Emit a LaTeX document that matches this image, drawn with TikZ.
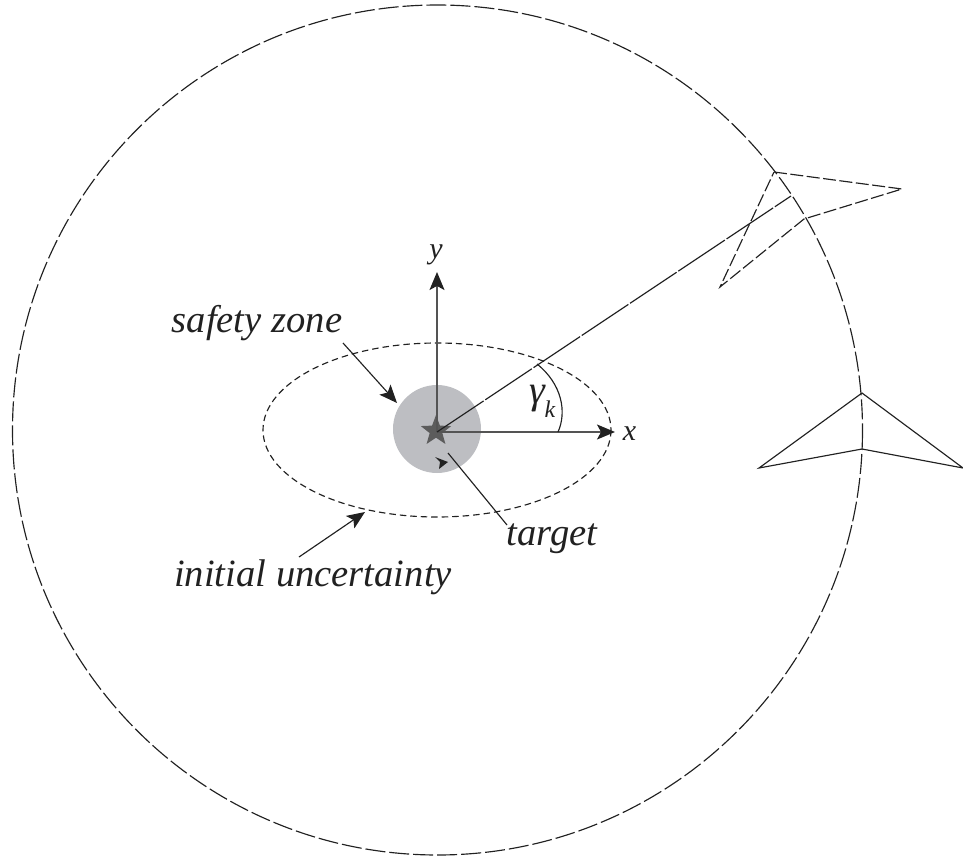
\documentclass[tikz,border=0pt]{standalone}
\usepackage{fontspec}
\setmainfont{Liberation Serif}
\usetikzlibrary{arrows.meta,shapes.geometric}
\definecolor{ink}{gray}{0.13}
\definecolor{axisgray}{gray}{0.33}
\definecolor{zonegray}{RGB}{189,190,194}
\definecolor{stargray}{gray}{0.36}
\tikzset{
  x=1pt,y=-1pt,
  every path/.style={line width=1.15pt,draw=ink},
  head/.style={-{Stealth[length=18pt,width=15pt,inset=4pt,color=ink]}},
  lab/.style={inner sep=0pt,anchor=base,text=ink,font=\fontsize{38.6}{42}\selectfont\itshape},
  axlab/.style={inner sep=0pt,anchor=base,text=ink,font=\fontsize{30}{32}\selectfont\itshape},
  sublab/.style={inner sep=0pt,anchor=base,text=ink,font=\fontsize{24}{26}\selectfont\itshape},
  bigdash/.style={dash pattern=on 20pt off 4pt},
  ovaldash/.style={dash pattern=on 6.5pt off 4pt},
  craftdash/.style={dash pattern=on 13pt off 3.5pt},
  raydash/.style={dash pattern=on 56pt off 2pt},
  axisline/.style={draw=axisgray,line width=1.5pt},
}
\begin{document}
\begin{tikzpicture}
\useasboundingbox[draw=none] (0,0) rectangle (963,859);
% zones
\fill[zonegray,draw=none] (437,429) circle [radius=44];
\draw[bigdash] (437.5,430) circle [radius=425];
\draw[ovaldash] (437,430) ellipse [x radius=174,y radius=87];
% target star
\node[star,star points=5,star point ratio=2.4,fill=stargray,draw=none,inner sep=0pt,minimum size=32pt] (star) at (436,431) {};
\coordinate (o) at (437,432);
% axes
\coordinate (xend) at (615,432);
\coordinate (yend) at (437,272);
\draw[axisline,head] (o) -- (xend);
\draw[axisline,head] (o) -- (yend);
\node[axlab] (xl) at (629.5,440) {x};
\node[axlab] (yl) at (436,258) {y};
% line of sight
\coordinate (los) at (791,196);
\draw[raydash] (o) -- (los);
\coordinate (arcs) at (558,432);
\coordinate (arce) at (537,364);
\draw (arcs) .. controls (567,412) and (562,384) .. (arce);
\node[lab,font=\fontsize{40}{44}\selectfont\itshape] (gam) at (537,403) {γ};
\node[sublab] (gamk) at (550,417) {k};
% aircraft
\coordinate (d1) at (774,172);
\coordinate (d2) at (902,189);
\coordinate (d3) at (804,219);
\coordinate (d4) at (720,287);
\draw[craftdash,line join=miter] (d1) -- (d2) -- (d3) -- (d4) -- cycle;
\coordinate (s1) at (862,393);
\coordinate (s2) at (963,468);
\coordinate (s3) at (862,449);
\coordinate (s4) at (759,468);
\draw[line join=miter] (s1) -- (s2) -- (s3) -- (s4) -- cycle;
% labels
\node[lab] (sz) at (257,332) {safety zone};
\node[lab] (iu) at (313,586) {initial uncertainty};
\node[lab] (tg) at (552,545) {target};
\coordinate (szs) at (343,343);
\coordinate (szt) at (397,403);
\draw[head] (szs) -- (szt);
\coordinate (ius) at (299,557);
\coordinate (iut) at (365,512);
\draw[head] (ius) -- (iut);
\coordinate (tgs) at (507,525);
\coordinate (tgt) at (448,453);
\draw (tgs) -- (tgt);
\fill[ink,draw=none] (435,457) -- (448,462) -- (439,469) -- (440,462) -- cycle;
\end{tikzpicture}
\end{document}
